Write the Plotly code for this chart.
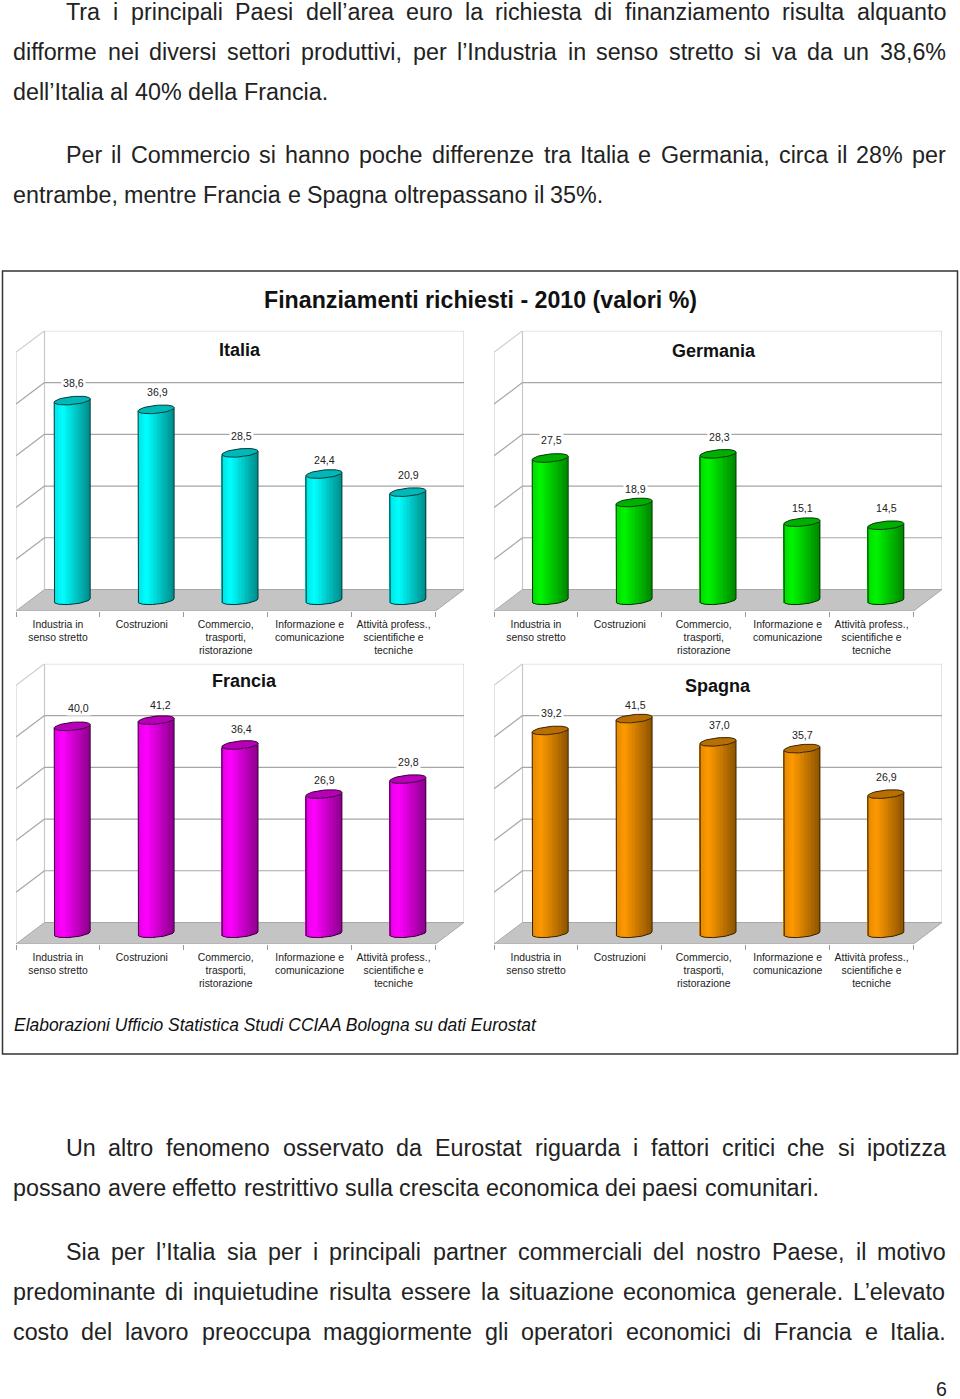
import math
import plotly.graph_objects as go

CATEGORIES = ["Industria in<br>senso stretto", "Costruzioni", "Commercio,<br>trasporti,<br>ristorazione",
              "Informazione e<br>comunicazione", "Attività profess.,<br>scientifiche e<br>tecniche"]
ITALIA = [38.6, 36.9, 28.5, 24.4, 20.9]
GERMANIA = [27.5, 18.9, 28.3, 15.1, 14.5]
FRANCIA = [40.0, 41.2, 36.4, 26.9, 29.8]
SPAGNA = [39.2, 41.5, 37.0, 35.7, 26.9]
# label nudges in pixels, as the labels sit in the reference
NUDGE_X = {"Francia": [5.5, 3.5, 0, 0, 0]}
NUDGE_Y = {"Italia": [0, 0, 1, 4, 0], "Germania": [0, 4, 1, 3, 0], "Francia": [-1, 2, 2, 3, 0], "Spagna": [0, 4, 1, 4, 0]}
PANELS = [
    ("Italia", ITALIA, (0, 255, 255), 16, 611, 240, 350),
    ("Germania", GERMANIA, (0, 245, 0), 494, 611, 714, 351),
    ("Francia", FRANCIA, (255, 0, 255), 16, 944, 245, 681),
    ("Spagna", SPAGNA, (255, 153, 0), 494, 944, 718, 686),
]
TITLE = "Finanziamenti richiesti - 2010 (valori %)"
SOURCE = "Elaborazioni Ufficio Statistica Studi CCIAA Bologna su dati Eurostat"
BODY = [
    ("Tra i principali Paesi dell’area euro la richiesta di finanziamento risulta alquanto", 12, 66, True),
    ("difforme nei diversi settori produttivi, per l’Industria in senso stretto si va da un 38,6%", 52, 13, True),
    ("dell’Italia al 40% della Francia.", 92, 13, False),
    ("Per il Commercio si hanno poche differenze tra Italia e Germania, circa il 28% per", 155, 66, True),
    ("entrambe, mentre Francia e Spagna oltrepassano il 35%.", 195, 13, False),
    ("Un altro fenomeno osservato da Eurostat riguarda i fattori critici che si ipotizza", 1148, 66, True),
    ("possano avere effetto restrittivo sulla crescita economica dei paesi comunitari.", 1188, 13, False),
    ("Sia per l’Italia sia per i principali partner commerciali del nostro Paese, il motivo", 1252, 66, True),
    ("predominante di inquietudine risulta essere la situazione economica generale. L’elevato", 1292, 13, True),
    ("costo del lavoro preoccupa maggiormente gli operatori economici di Francia e Italia.", 1332, 13, True),
]

W, H = 960, 1399
FONT = "Liberation Sans"
BODY_SIZE = 23.3
TEXT_RIGHT = 946
PX_X = 83.9
PX_Y = 5.173
DEPTH_X = 28.5 / PX_X
DEPTH_Y = 21.5 / PX_Y
SLICES = 26
HALF = 18 / PX_X
ELL_B = 4 / PX_Y
ELL_T = 1.7 / PX_Y
GRID = [0, 10, 20, 30, 40]
YMAX = 50

CW = {c: 556 for c in "abdeghnopqu0123456789àÀ"}
CW.update({c: 500 for c in "cksvxyzJ"})
CW.update({"f": 278, "t": 278, "i": 222, "j": 222, "l": 222, "m": 833, "r": 333, "w": 722, ",": 278, ".": 278,
           "%": 889, "’": 222, " ": 278, "A": 667, "C": 722, "E": 667, "F": 611, "G": 778, "I": 278, "L": 556,
           "P": 667, "S": 667, "T": 611, "U": 722})


def text_width(s):
    return sum(CW.get(c, 556) for c in s) * BODY_SIZE / 1000


def shade(c, k):
    return "rgb(%d,%d,%d)" % tuple(round(v * k) for v in c)


def slice_shade(u):
    k = 0.88 + 0.12 * (u + 1) / 0.5 if u < -0.5 else 1.0 - 0.45 * (u + 0.5) / 1.5
    return min(k, 1.0)


def tick_label(s):
    return "<br>".join(f'<span style="font-size:10.4px">{p}</span>' for p in s.split("<br>"))


fig = go.Figure()
annotations = []
shapes = [dict(type="rect", xref="paper", yref="paper", x0=2.5 / W, x1=957.5 / W, y0=1 - 1054 / H, y1=1 - 271 / H,
               line=dict(color="#333", width=1.5), layer="below")]
layout = {}

for idx, (name, values, color, left, front, tx, ty) in enumerate(PANELS):
    sfx = "" if idx == 0 else str(idx + 1)
    xa, ya = "x" + sfx, "y" + sfx
    xr = (-0.5, 4.5 + DEPTH_X)
    yr = (0, YMAX + DEPTH_Y)
    pix_w = (xr[1] - xr[0]) * PX_X
    pix_h = (yr[1] - yr[0]) * PX_Y
    layout["xaxis" + sfx] = dict(
        domain=[left / W, (left + pix_w) / W], range=xr, anchor=ya, showgrid=False, zeroline=False, showline=False,
        tickmode="array", tickvals=list(range(5)), ticktext=[tick_label(c) for c in CATEGORIES],
        ticklen=4, tickcolor="rgba(0,0,0,0)",
        tickfont=dict(family=FONT, size=9.9, color="#222"),
        tickangle=0,
        minor=dict(tickmode="array", tickvals=[i - 0.5 for i in range(6)], ticklen=5, tickcolor="#999", ticks="outside", showgrid=False),
        ticks="outside",
    )
    layout["yaxis" + sfx] = dict(domain=[1 - front / H, 1 - (front - pix_h) / H], range=yr, anchor=xa, visible=False)

    def seg(x0, y0, x1, y1, col, width=1.2):
        shapes.append(dict(type="line", xref=xa, yref=ya, x0=x0, y0=y0, x1=x1, y1=y1, layer="below",
                           line=dict(color=col, width=width)))

    # walls and floor, below the cylinders
    seg(-0.5, 0, -0.5, YMAX, "#D0D0D0")
    seg(-0.5, YMAX, -0.5 + DEPTH_X, YMAX + DEPTH_Y, "#D0D0D0")
    seg(-0.5 + DEPTH_X, YMAX + DEPTH_Y, 4.5 + DEPTH_X, YMAX + DEPTH_Y, "#D8D8D8")
    seg(4.5 + DEPTH_X, YMAX + DEPTH_Y, 4.5 + DEPTH_X, DEPTH_Y, "#D0D0D0")
    seg(-0.5 + DEPTH_X, DEPTH_Y, -0.5 + DEPTH_X, YMAX + DEPTH_Y, "#C8C8C8")
    for g in GRID[1:]:
        seg(-0.5, g, -0.5 + DEPTH_X, g + DEPTH_Y, "#A6A6A6")
        seg(-0.5 + DEPTH_X, g + DEPTH_Y, 4.5 + DEPTH_X, g + DEPTH_Y, "#A6A6A6")
    xs = [-0.5, 4.5, 4.5 + DEPTH_X, -0.5 + DEPTH_X]
    ys = [0, 0, DEPTH_Y, DEPTH_Y]
    shapes.append(dict(type="path", xref=xa, yref=ya, layer="below", fillcolor="#C4C4C4", line=dict(color="#A8A8A8", width=1),
                       path="M" + " L".join(f"{a},{b}" for a, b in zip(xs, ys)) + " Z"))

    for i, v in enumerate(values):
        cx = i + DEPTH_X / 2
        base = DEPTH_Y / 2
        us = [-1 + (2 * k + 1) / SLICES for k in range(SLICES)]
        arc = [-ELL_B * math.sqrt(max(0, 1 - u * u)) + ELL_T * u for u in us]
        fig.add_trace(go.Bar(
            x=[cx + u * HALF for u in us], y=[v] * SLICES, base=[base + a for a in arc], width=[2 * HALF / SLICES * 1.15] * SLICES,
            marker=dict(color=[shade(color, slice_shade(u)) for u in us], line=dict(width=0)),
            xaxis=xa, yaxis=ya, hoverinfo="skip",
        ))
        ts = [2 * math.pi * k / 48 for k in range(49)]
        ex = [cx + HALF * math.cos(t) for t in ts]
        ey = [base + v + ELL_T * math.cos(t) + ELL_B * math.sin(t) for t in ts]
        edge = shade(color, 0.22)
        fig.add_trace(go.Scatter(x=ex, y=ey, xaxis=xa, yaxis=ya, mode="lines", fill="toself", fillcolor=shade(color, 0.72),
                                 line=dict(color=edge, width=1), hoverinfo="skip"))
        arc_t = [math.pi + math.pi * k / 32 for k in range(33)]
        ox = [cx - HALF] + [cx + HALF * math.cos(t) for t in arc_t] + [cx + HALF]
        oy = [base + v - ELL_T] + [base + ELL_T * math.cos(t) + ELL_B * math.sin(t) for t in arc_t] + [base + v + ELL_T]
        fig.add_trace(go.Scatter(x=ox, y=oy, xaxis=xa, yaxis=ya, mode="lines", line=dict(color=edge, width=1), hoverinfo="skip"))
        nx = (NUDGE_X.get(name, [0] * 5)[i] + 1) / PX_X
        ny = NUDGE_Y[name][i] / PX_Y
        annotations.append(dict(x=cx + nx, y=base + v + 3.4 - ny, xref=xa, yref=ya, text=f"{v:.1f}".replace(".", ","), showarrow=False,
                                font=dict(family=FONT, size=10.6, color="#222"), bgcolor="white", borderpad=1))


def add_text(x, y, text, size, anchor="left", color="#222"):
    annotations.append(dict(x=x / W, y=1 - y / H, xref="paper", yref="paper", text=text, showarrow=False, xanchor=anchor,
                            yanchor="middle", font=dict(family=FONT, size=size, color=color), borderpad=0, borderwidth=0))


for name, values, color, left, front, tx, ty in PANELS:
    add_text(tx, ty, f"<b>{name}</b>", 18, "center", "#111")

for line, y, x0, justified in BODY:
    words = line.split(" ")
    widths = [text_width(w) for w in words]
    gap = (TEXT_RIGHT - x0 - sum(widths)) / (len(words) - 1) if justified else BODY_SIZE * 0.278
    x = x0
    for word, wd in zip(words, widths):
        add_text(x, y, word, BODY_SIZE)
        x += wd + gap

add_text(941, 1389, "6", 19.5, "center")
add_text(480, 300, f"<b>{TITLE}</b>", 23.2, "center", "#111")
add_text(14, 1025, f"<i>{SOURCE}</i>", 17.45, "left", "#111")

fig.update_layout(
    width=W, height=H, margin=dict(l=0, r=0, t=0, b=0), paper_bgcolor="white", plot_bgcolor="rgba(0,0,0,0)",
    showlegend=False, barmode="overlay", annotations=annotations, bargap=0, shapes=shapes,
    **layout,
)
fig.write_html("out.html", config={"displayModeBar": False},
               post_script="document.body.style.margin='0';document.body.style.overflow='hidden';")
